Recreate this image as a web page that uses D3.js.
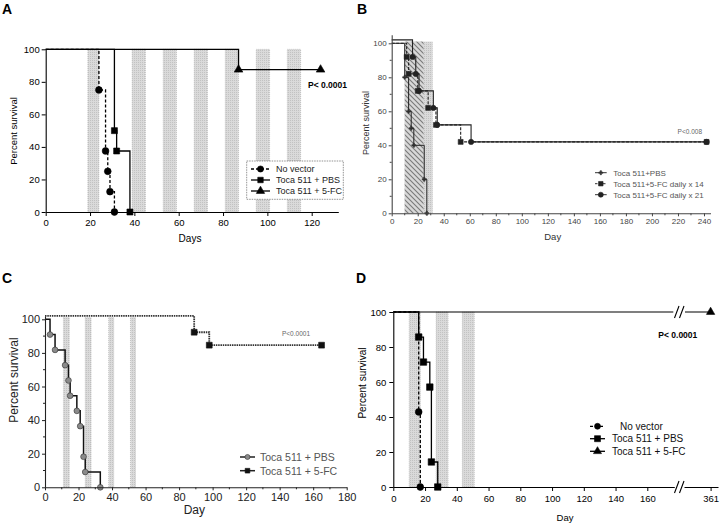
<!DOCTYPE html>
<html><head><meta charset="utf-8">
<script src="https://cdn.jsdelivr.net/npm/d3@7"></script>
<style>body{margin:0;background:#fff} svg{display:block} text{font-family:"Liberation Sans",Arial,sans-serif}</style>
</head><body><svg id="c" width="720" height="524"></svg>
<script>
// ---------- DATA ----------
// Panel A (events: [day, percent])
const A_bands = [[19,24],[39,45],[53,59],[67,73],[81,87],[95,101],[109,115]];
const A_noVector = [[24,75],[27,37.5],[28,25],[29,12.5],[31,0]];
const A_pbs = [[31,50],[32,37.5],[38,0]];
const A_fc = [[87,87.5]];
const A_fcEnd = 124;
const A_xTicks = [0,20,40,60,80,100,120];
const A_yTicks = [0,20,40,60,80,100];
const A_legend = ["No vector","Toca 511 + PBS","Toca 511 + 5-FC"];
// Panel B
const B_pbs = [[10,80],[13,60],[15,50],[17,40],[25,20],[27,0]];
const B_x14 = [[11.5,92],[13,82],[20,72],[28,62],[34,52],[53,42]];
const B_x21Start = 102;
const B_x21 = [[16,92],[18.5,82],[21,72],[32,62],[35,52],[61,42]];
const B_end = 242;
const B_stipple = [10,31.5];
const B_hatch = [10,24.5];
const B_xTicks = [0,20,40,60,80,100,120,140,160,180,200,220,240];
const B_yTicks = [0,20,40,60,80,100];
const B_legend = ["Toca 511+PBS","Toca 511+5-FC daily x 14","Toca 511+5-FC daily x 21"];
// Panel C
const C_bands = [[11,14.5],[24,27.5],[38,41],[51,54]];
const C_pbs = [[3,90.9],[6,81.8],[12,72.7],[14,63.6],[15,54.5],[19,45.5],[21,36.4],[23,18.2],[24,9.1],[33,0]];
const C_fcStart = 102;
const C_fc = [[89,92.3],[98,84.6]];
const C_fcEnd = 165;
const C_xTicks = [0,20,40,60,80,100,120,140,160,180];
const C_yTicks = [0,20,40,60,80,100];
const C_legend = ["Toca 511 + PBS","Toca 511 + 5-FC"];
// Panel D
const D_bands = [[10,17],[27,34.5],[43.5,51]];
const D_noVector = [[16,42.9],[17,0]];
const D_pbs = [[16,85.7],[19,71.4],[23,57.1],[24,14.3],[28,0]];
const D_fcEnd = 361;
const D_xTicks = [0,20,40,60,80,100,120,140,160];
const D_xTicks2 = [361];
const D_yTicks = [0,20,40,60,80,100];
const D_legend = ["No vector","Toca 511 + PBS","Toca 511 + 5-FC"];

// ---------- HELPERS ----------
const svg = d3.select("#c");
const defs = svg.append("defs");
const st = defs.append("pattern").attr("id","stip").attr("patternUnits","userSpaceOnUse").attr("width",2).attr("height",2);
st.append("rect").attr("width",2).attr("height",2).attr("fill","#dadada");
st.append("rect").attr("width",1).attr("height",1).attr("fill","#c2c2c2");
const ht = defs.append("pattern").attr("id","hatch").attr("patternUnits","userSpaceOnUse").attr("width",5).attr("height",5);
ht.append("rect").attr("width",5).attr("height",5).attr("fill","#d8d8d8");
ht.append("path").attr("d","M0,0L5,5M-1,4L1,6M4,-1L6,1").attr("stroke","#7a7a7a").attr("stroke-width",1.1);

function stepPath(x,y,events,start,end){
  let d = `M${x(0)},${y(start)}`;
  events.forEach(([t,p])=>{ d += `H${x(t)}V${y(p)}`; });
  if(end!=null) d += `H${x(end)}`;
  return d;
}
function sym(g,type,cx,cy,size,fill,stroke){
  let s;
  if(type==="circle") s=d3.symbolCircle; else if(type==="square") s=d3.symbolSquare;
  else if(type==="triangle") s=d3.symbolTriangle; else s=d3.symbolCross;
  g.append("path").attr("d",d3.symbol(s,size)()).attr("transform",`translate(${cx},${cy})`)
   .attr("fill",fill).attr("stroke",stroke||fill).attr("stroke-width",0.6);
}
function styleAxis(g,color,fs){
  g.select(".domain").attr("stroke",color).attr("stroke-width",1.1);
  g.selectAll(".tick line").attr("stroke",color).attr("stroke-width",1);
  g.selectAll(".tick text").attr("fill",color).attr("font-size",fs).attr("font-family","Liberation Sans, Arial, sans-serif");
}
function minor(g,scale,vals,orient,pos,len,color){
  vals.forEach(v=>{
    if(orient==="x") g.append("line").attr("x1",scale(v)).attr("x2",scale(v)).attr("y1",pos).attr("y2",pos+len).attr("stroke",color);
    else g.append("line").attr("y1",scale(v)).attr("y2",scale(v)).attr("x1",pos).attr("x2",pos-len).attr("stroke",color);
  });
}
function label(txt,x,y){ svg.append("text").attr("x",x).attr("y",y).attr("font-size",14).attr("font-weight","bold").text(txt); }
function text(g,t,x,y,fs,opts={}){
  const e=g.append("text").attr("x",x).attr("y",y).attr("font-size",fs).attr("fill",opts.fill||"#000").text(t);
  if(opts.anchor) e.attr("text-anchor",opts.anchor);
  if(opts.bold) e.attr("font-weight","bold");
  if(opts.rot) e.attr("transform",`rotate(-90,${x},${y})`);
  return e;
}
function bandRect(g,x,y,b,top){
  g.append("rect").attr("x",x(b[0])).attr("width",x(b[1])-x(b[0]))
   .attr("y",y(top)).attr("height",y(0)-y(top)).attr("fill","url(#stip)")
   .attr("stroke","#b0b0b0").attr("stroke-width",0.6).attr("stroke-dasharray","1,1");
}

// ---------- PANEL A ----------
{
  const g = svg.append("g");
  const x = d3.scaleLinear([0,132],[45.7,338.3]);
  const y = d3.scaleLinear([0,100],[212,49.3]);
  A_bands.forEach(b=> bandRect(g,x,y,b,100));
  g.append("path").attr("d",stepPath(x,y,A_fc,100,A_fcEnd)).attr("fill","none").attr("stroke","#000").attr("stroke-width",1.3);
  g.append("path").attr("d",stepPath(x,y,A_pbs,100)).attr("fill","none").attr("stroke","#000").attr("stroke-width",1.3);
  g.append("path").attr("d",stepPath(x,y,A_noVector,100)).attr("fill","none").attr("stroke","#000").attr("stroke-width",1.3).attr("stroke-dasharray","3,2");
  A_noVector.forEach(([t,p])=>sym(g,"circle",x(t),y(p),36,"#000"));
  A_pbs.forEach(([t,p])=>sym(g,"square",x(t),y(p),36,"#000"));
  A_fc.forEach(([t,p])=>sym(g,"triangle",x(t),y(p),32,"#000"));
  sym(g,"triangle",x(A_fcEnd),y(A_fc[A_fc.length-1][1]),32,"#000");
  const ax = g.append("g").attr("transform",`translate(0,${y(0)})`).call(d3.axisBottom(x).tickValues(A_xTicks).tickSize(4).tickSizeOuter(0).tickPadding(3));
  styleAxis(ax,"#000",9.5);
  const ay = g.append("g").attr("transform",`translate(${x(0)},0)`).call(d3.axisLeft(y).tickValues(A_yTicks).tickSize(4).tickSizeOuter(0).tickPadding(2));
  styleAxis(ay,"#000",9.5);
  text(g,"Days",190,242,10,{anchor:"middle"});
  text(g,"Percent survival",17,131,9.5,{anchor:"middle",rot:true});
  text(g,"P< 0.0001",308,88,8.5,{bold:true});
  // legend
  g.append("rect").attr("x",246.7).attr("y",161).attr("width",96.6).attr("height",38.3).attr("fill","#fff").attr("stroke","#777").attr("stroke-width",0.8).attr("stroke-dasharray","1.5,1");
  const ly=[169,180,191], types=["circle","square","triangle"];
  A_legend.forEach((s,i)=>{
    const ln=g.append("line").attr("x1",251).attr("x2",270).attr("y1",ly[i]).attr("y2",ly[i]).attr("stroke","#000").attr("stroke-width",1.3);
    if(i===0) ln.attr("stroke-dasharray","3,2");
    sym(g,types[i],260.5,ly[i],30,"#000");
    text(g,s,276,ly[i]+3.2,9,{fill:"#222"});
  });
  label("A",2,13.5);
}

// ---------- PANEL B ----------
{
  const g = svg.append("g");
  const x = d3.scaleLinear([0,245],[391.7,710.5]);
  const y = d3.scaleLinear([0,105],[213.3,34.8]);
  g.append("rect").attr("x",x(B_stipple[0])).attr("width",x(B_stipple[1])-x(B_stipple[0])).attr("y",y(101)).attr("height",y(0)-y(101)).attr("fill","url(#stip)");
  g.append("rect").attr("x",x(B_hatch[0])).attr("width",x(B_hatch[1])-x(B_hatch[0])).attr("y",y(101)).attr("height",y(0)-y(101)).attr("fill","url(#hatch)");
  g.append("path").attr("d",stepPath(x,y,B_x21,B_x21Start,B_end)).attr("fill","none").attr("stroke","#222").attr("stroke-width",1.1);
  g.append("path").attr("d",stepPath(x,y,B_x14,100,B_end)).attr("fill","none").attr("stroke","#222").attr("stroke-width",1.1).attr("stroke-dasharray","3,1.5");
  g.append("path").attr("d",stepPath(x,y,B_pbs,100)).attr("fill","none").attr("stroke","#222").attr("stroke-width",1);
  B_pbs.forEach(([t,p])=>sym(g,"cross",x(t),y(p),9,"#333"));
  B_x21.forEach(([t,p])=>sym(g,"circle",x(t),y(p),22,"#222"));
  sym(g,"circle",x(B_end),y(42),22,"#222");
  B_x14.forEach(([t,p])=>sym(g,"square",x(t),y(p),24,"#222"));
  sym(g,"square",x(B_end),y(42),24,"#222");
  const ax = g.append("g").attr("transform",`translate(0,${y(0)})`).call(d3.axisBottom(x).tickValues(B_xTicks).tickSize(3).tickSizeOuter(0).tickPadding(2));
  styleAxis(ax,"#444",8);
  minor(g,x,d3.range(10,245,20),"x",y(0),2,"#444");
  const ay = g.append("g").attr("transform",`translate(${x(0)},0)`).call(d3.axisLeft(y).tickValues(B_yTicks).tickSize(3).tickSizeOuter(0).tickPadding(2));
  styleAxis(ay,"#444",8);
  minor(g,y,[10,30,50,70,90],"y",x(0),2,"#444");
  text(g,"Day",552.7,240,9.5,{anchor:"middle",fill:"#333"});
  text(g,"Percent survival",369,123,9,{anchor:"middle",rot:true,fill:"#333"});
  text(g,"P<0.008",702,134,6.5,{anchor:"end",fill:"#666"});
  const ly=[172.7,183.7,194.7];
  B_legend.forEach((s,i)=>{
    const ln=g.append("line").attr("x1",595).attr("x2",606.7).attr("y1",ly[i]).attr("y2",ly[i]).attr("stroke","#333").attr("stroke-width",1);
    if(i===1) ln.attr("stroke-dasharray","2.5,1.5");
    if(i===0) sym(g,"cross",600.8,ly[i],9,"#333");
    if(i===1) sym(g,"square",600.8,ly[i],20,"#222");
    if(i===2) sym(g,"circle",600.8,ly[i],20,"#222");
    text(g,s,613.3,ly[i]+2.8,8,{fill:"#555"});
  });
  label("B",357,13.5);
}

// ---------- PANEL C ----------
{
  const g = svg.append("g");
  const x = d3.scaleLinear([0,180],[45,346.7]);
  const y = d3.scaleLinear([0,100],[487.3,319.3]);
  C_bands.forEach(b=> bandRect(g,x,y,b,101));
  g.append("path").attr("d",stepPath(x,y,C_fc,C_fcStart,C_fcEnd)).attr("fill","none").attr("stroke","#333").attr("stroke-width",1.8).attr("stroke-dasharray","1.5,0.8");
  g.append("path").attr("d",stepPath(x,y,C_pbs,100)).attr("fill","none").attr("stroke","#111").attr("stroke-width",1.5);
  C_pbs.forEach(([t,p])=>sym(g,"circle",x(t),y(p),26,"#8a8a8a","#333"));
  C_fc.forEach(([t,p])=>sym(g,"square",x(t),y(p),34,"#111"));
  sym(g,"square",x(C_fcEnd),y(84.6),34,"#111");
  const ax = g.append("g").attr("transform",`translate(0,${y(0)})`).call(d3.axisBottom(x).tickValues(C_xTicks).tickSize(3).tickSizeOuter(0).tickPadding(3));
  styleAxis(ax,"#222",11);
  minor(g,x,d3.range(10,180,20),"x",y(0),2,"#222");
  const yAx = d3.scaleLinear([0,102],[y(0),y(102)]);
  const ay = g.append("g").attr("transform",`translate(${x(0)},0)`).call(d3.axisLeft(yAx).tickValues(C_yTicks).tickSize(3).tickSizeOuter(0).tickPadding(2));
  styleAxis(ay,"#222",11);
  minor(g,y,[10,30,50,70,90],"y",x(0),2,"#222");
  text(g,"Day",194.3,514,12,{anchor:"middle",fill:"#222"});
  text(g,"Percent survival",18,380,12,{anchor:"middle",rot:true,fill:"#222"});
  text(g,"P<0.0001",310,336,6.5,{anchor:"end",fill:"#666"});
  const ly=[457,470.7];
  C_legend.forEach((s,i)=>{
    g.append("line").attr("x1",240).attr("x2",255).attr("y1",ly[i]).attr("y2",ly[i]).attr("stroke","#222").attr("stroke-width",1.5);
    if(i===0) sym(g,"circle",247.5,ly[i],20,"#8a8a8a","#333"); else sym(g,"square",247.5,ly[i],22,"#111");
    text(g,s,260,ly[i]+3.8,10.5,{fill:"#555"});
  });
  label("C",2,283);
}

// ---------- PANEL D ----------
{
  const g = svg.append("g");
  const x = d3.scaleLinear([0,177],[393.3,674.3]);
  const x2 = d3.scaleLinear([352,363.5],[684,718]);
  const y = d3.scaleLinear([0,100],[487,312]);
  D_bands.forEach(b=> bandRect(g,x,y,b,100));
  g.append("path").attr("d",`M${x(0)},${y(100)}H${x(177)-1}M${x2(352)+1},${y(100)}H${x2(D_fcEnd)}`).attr("fill","none").attr("stroke","#000").attr("stroke-width",1.2);
  g.append("path").attr("d",stepPath(x,y,D_pbs,100)).attr("fill","none").attr("stroke","#000").attr("stroke-width",1.3);
  g.append("path").attr("d",stepPath(x,y,D_noVector,100)).attr("fill","none").attr("stroke","#000").attr("stroke-width",1.3).attr("stroke-dasharray","3,2");
  D_pbs.forEach(([t,p])=>sym(g,"square",x(t),y(p),42,"#000"));
  D_noVector.forEach(([t,p])=>sym(g,"circle",x(t),y(p),36,"#000"));
  sym(g,"triangle",x2(D_fcEnd),y(100),30,"#000");
  const ax = g.append("g").attr("transform",`translate(0,${y(0)})`).call(d3.axisBottom(x).tickValues(D_xTicks).tickSize(4).tickSizeOuter(0).tickPadding(4));
  styleAxis(ax,"#000",9.5);
  const ax2 = g.append("g").attr("transform",`translate(0,${y(0)})`).call(d3.axisBottom(x2).tickValues(D_xTicks2).tickSize(4).tickSizeOuter(0).tickPadding(4));
  styleAxis(ax2,"#000",9.5);
  const ay = g.append("g").attr("transform",`translate(${x(0)},0)`).call(d3.axisLeft(y).tickValues(D_yTicks).tickSize(4).tickSizeOuter(0).tickPadding(3));
  styleAxis(ay,"#000",9.5);
  [y(0), y(100)].forEach(yy=>{
    g.append("path").attr("d",`M${674.5},${yy+6}L${679},${yy-6}M${679.5},${yy+6}L${684},${yy-6}`).attr("stroke","#000").attr("stroke-width",1.1).attr("fill","none");
  });
  text(g,"Day",565,521,9.5,{anchor:"middle"});
  text(g,"Percent survival",366,383,10,{anchor:"middle",rot:true});
  text(g,"P< 0.0001",658.3,338,8.5,{bold:true});
  const ly=[426.3,438.7,451.3], types=["circle","square","triangle"];
  D_legend.forEach((s,i)=>{
    const ln=g.append("line").attr("x1",590).attr("x2",605).attr("y1",ly[i]).attr("y2",ly[i]).attr("stroke","#000").attr("stroke-width",1.3);
    if(i===0) ln.attr("stroke-dasharray","3,2");
    sym(g,types[i],597.5,ly[i],i===1?36:28,"#000");
    text(g,s,i===0?620:612,ly[i]+3.6,10,{fill:"#111"});
  });
  label("D",356,283);
}
</script></body></html>
